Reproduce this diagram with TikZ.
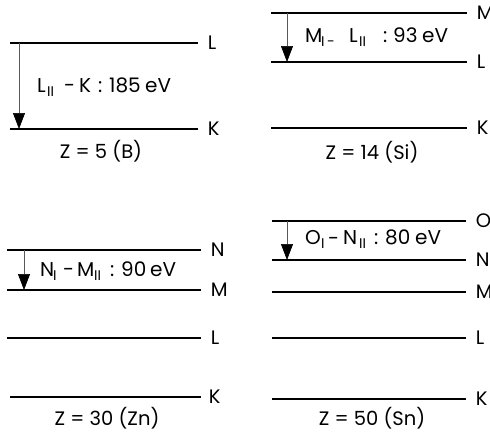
\documentclass[tikz,border=0pt]{standalone}
\usepackage{fontspec}
\setmainfont{Poppins}
\usetikzlibrary{arrows.meta}
\newcommand{\sbs}[1]{\raisebox{-4.5pt}{\fontsize{14}{15}\selectfont #1}}
\newcommand{\pc}[2]{\makebox[#1][l]{#2}}
\begin{document}
\begin{tikzpicture}[x=1pt,y=-1pt,
  level/.style={line width=1.6pt},
  lvl/.style={anchor=west,inner sep=0pt,xshift=9pt,font=\fontsize{19.5}{21}\selectfont},
  tlab/.style={anchor=base west,inner sep=0pt,font=\fontsize{20}{22}\selectfont},
  zlab/.style={inner sep=0pt,font=\fontsize{19.5}{21}\selectfont},
  trans/.style={draw=black!65, line width=0.6pt, -{Triangle[width=12pt,length=16pt,color=black]}}]
\useasboundingbox (0,0) rectangle (490,432);
% Panel 1: Z=5
\draw[level] (10,43) coordinate (aL0) -- (198,43) node[lvl] (aL) {L};
\draw[level] (10,129) coordinate (aK0) -- (198,129) node[lvl] (aK) {K};
\coordinate (a1) at (19,43); \coordinate (a2) at (19,129);
\draw[trans] (a1) -- (a2);
\node[tlab] (at) at (37,92) {\pc{10pt}{L}\pc{17pt}{\sbs{II}}\pc{15pt}{-}\pc{19pt}{K}\pc{11pt}{:}\pc{36pt}{185}eV};
\node[zlab] (az) at (101,151) {Z = 5 (B)};
% Panel 2: Z=14
\draw[level] (271,13) -- (467,13) node[lvl] (bM) {M};
\draw[level] (271,62) -- (467,62) node[lvl] (bL) {L};
\draw[level] (271,128) -- (467,128) node[lvl] (bK) {K};
\coordinate (b1) at (287,13); \coordinate (b2) at (287,62);
\draw[trans] (b1) -- (b2);
\node[tlab] (bt) at (305,42) {\pc{16pt}{M}\pc{6pt}{\sbs{I}}\pc{22pt}{\sbs{-}}\pc{10pt}{L}\pc{24pt}{\sbs{II}}\pc{10pt}{:}\pc{29pt}{93}eV};
\node[zlab] (bz) at (372,152) {Z = 14 (Si)};
% Panel 3: Z=30
\draw[level] (7,250) -- (201,250) node[lvl] (cN) {N};
\draw[level] (7,290) -- (201,290) node[lvl] (cM) {M};
\draw[level] (7,338) -- (201,338) node[lvl] (cL) {L};
\draw[level] (10,397) -- (201,397) node[lvl,xshift=-2pt] (cK) {K};
\coordinate (c1) at (24,250); \coordinate (c2) at (24,290);
\draw[trans] (c1) -- (c2);
\node[tlab] (ct) at (40,276) {\pc{13pt}{N}\pc{10pt}{\sbs{I}}\pc{14pt}{-}\pc{17pt}{M}\pc{16pt}{\sbs{II}}\pc{11pt}{:}\pc{29pt}{90}eV};
\node[zlab] (cz) at (107,418) {Z = 30 (Zn)};
% Panel 4: Z=50
\draw[level] (272,221) -- (466,221) node[lvl] (dO) {O};
\draw[level] (272,260) -- (466,260) node[lvl] (dN) {N};
\draw[level] (272,292) -- (466,292) node[lvl] (dM) {M};
\draw[level] (272,338) -- (466,338) node[lvl] (dL) {L};
\draw[level] (272,399) -- (466,399) node[lvl] (dK) {K};
\coordinate (d1) at (287,221); \coordinate (d2) at (287,260);
\draw[trans] (d1) -- (d2);
\node[tlab] (dt) at (305,244) {\pc{16pt}{O}\pc{7pt}{\sbs{I}}\pc{15pt}{\raisebox{-1.5pt}{-}}\pc{16pt}{N}\pc{15pt}{\sbs{II}}\pc{11pt}{:}\pc{30pt}{80}eV};
\node[zlab] (dz) at (372,418) {Z = 50 (Sn)};
\end{tikzpicture}
\end{document}
